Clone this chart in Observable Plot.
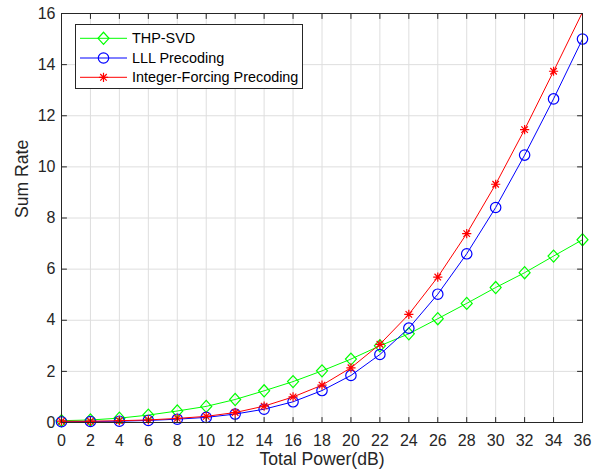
<!DOCTYPE html>
<html>
<head>
<meta charset="utf-8">
<script src="https://cdn.jsdelivr.net/npm/d3@7"></script>
<script src="https://cdn.jsdelivr.net/npm/@observablehq/plot@0.6"></script>
<style>
  body { margin: 0; background: #fff; }
  #chart svg { display: block; }
</style>
</head>
<body>
<div id="chart"></div>
<script>
// ---- data ----
const power = [0, 2, 4, 6, 8, 10, 12, 14, 16, 18, 20, 22, 24, 26, 28, 30, 32, 34, 36];
const thpSvd = [0.07, 0.10, 0.17, 0.29, 0.45, 0.63, 0.90, 1.24, 1.60, 2.02, 2.48, 3.00, 3.47, 4.06, 4.66, 5.28, 5.86, 6.51, 7.15];
const lllPrecoding = [0.03, 0.04, 0.05, 0.08, 0.13, 0.20, 0.33, 0.52, 0.81, 1.25, 1.84, 2.66, 3.69, 5.02, 6.60, 8.41, 10.46, 12.66, 15.00];
const intForcing = [0.05, 0.05, 0.07, 0.10, 0.16, 0.24, 0.39, 0.64, 1.00, 1.46, 2.14, 3.06, 4.23, 5.69, 7.39, 9.32, 11.46, 13.74, 16.05];
const seriesNames = ["THP-SVD", "LLL Precoding", "Integer-Forcing Precoding"];
const xTicks = [0, 2, 4, 6, 8, 10, 12, 14, 16, 18, 20, 22, 24, 26, 28, 30, 32, 34, 36];
const yTicks = [0, 2, 4, 6, 8, 10, 12, 14, 16];
const xLabel = "Total Power(dB)";
const yLabel = "Sum Rate";

// ---- symbols (MATLAB-like) ----
const diamondSym = {
  draw(ctx, size) {
    const r = Math.sqrt(size / Math.PI);
    ctx.moveTo(0, -r * 1.1); ctx.lineTo(r, 0); ctx.lineTo(0, r * 1.1); ctx.lineTo(-r, 0); ctx.closePath();
  }
};
const starSym = {
  draw(ctx, size) {
    const r = Math.sqrt(size / Math.PI);
    const d = r * Math.SQRT1_2;
    ctx.moveTo(-r, 0); ctx.lineTo(r, 0);
    ctx.moveTo(0, -r); ctx.lineTo(0, r);
    ctx.moveTo(-d, -d); ctx.lineTo(d, d);
    ctx.moveTo(-d, d); ctx.lineTo(d, -d);
  }
};
const series = [
  {name: seriesNames[0], values: thpSvd, color: "#00ff00", symbol: diamondSym, r: 5.5},
  {name: seriesNames[1], values: lllPrecoding, color: "#0000ff", symbol: "circle", r: 5.2},
  {name: seriesNames[2], values: intForcing, color: "#ff0000", symbol: starSym, r: 4.6}
];
const rows = s => power.map((p, i) => ({x: p, y: s.values[i]}));

const tickShape = {draw(ctx, l) { ctx.moveTo(0, 0); ctx.lineTo(0, -l); }};
const axisColor = "#262626";
const font = "'Liberation Sans', Arial, Helvetica, sans-serif";

const marks = [
  Plot.gridX(xTicks, {stroke: "#dedede", strokeOpacity: 1}),
  Plot.gridY(yTicks, {stroke: "#dedede", strokeOpacity: 1})
];
for (const s of series) {
  marks.push(Plot.line(rows(s), {x: "x", y: "y", stroke: s.color, strokeWidth: 1, clip: true}));
  marks.push(Plot.dot(rows(s), {x: "x", y: "y", stroke: s.color, fill: "none", strokeWidth: 1.2,
    symbol: s.symbol, r: s.r, filter: d => d.y <= yTicks[yTicks.length - 1]}));
}
const x0 = xTicks[0], x1 = xTicks[xTicks.length - 1], y0 = yTicks[0], y1 = yTicks[yTicks.length - 1];
marks.push(
  Plot.frame({stroke: axisColor, strokeWidth: 1}),
  Plot.vector(xTicks, {x: d => d, y: y0, length: 5, rotate: 0, anchor: "start", shape: tickShape, stroke: axisColor, strokeWidth: 1}),
  Plot.vector(xTicks, {x: d => d, y: y1, length: 5, rotate: 180, anchor: "start", shape: tickShape, stroke: axisColor, strokeWidth: 1}),
  Plot.vector(yTicks, {x: x0, y: d => d, length: 5, rotate: 90, anchor: "start", shape: tickShape, stroke: axisColor, strokeWidth: 1}),
  Plot.vector(yTicks, {x: x1, y: d => d, length: 5, rotate: -90, anchor: "start", shape: tickShape, stroke: axisColor, strokeWidth: 1}),
  Plot.axisX(xTicks, {tickSize: 0, tickPadding: 12, fontSize: 16, label: null, fill: axisColor}),
  Plot.axisY(yTicks, {tickSize: 0, tickPadding: 6, fontSize: 16, label: null, fill: axisColor}),
  Plot.text([xLabel], {frameAnchor: "bottom", dy: 42, fontSize: 17.6, fill: axisColor, text: d => d}),
  Plot.text([yLabel], {frameAnchor: "left", dx: -39, rotate: -90, fontSize: 17.6, fill: axisColor, text: d => d})
);

const chart = Plot.plot({
  width: 602,
  height: 474,
  marginLeft: 61,
  marginRight: 20,
  marginTop: 13,
  marginBottom: 52,
  style: {fontFamily: font, fontSize: "16px", color: axisColor, background: "#fff"},
  x: {domain: [x0, x1], axis: null},
  y: {domain: [y0, y1], axis: null},
  marks
});

// ---- legend (inside the axes, top-left) ----
const svg = d3.select(chart);
const lg = svg.append("g").attr("font-family", font).attr("font-size", 14.4).attr("text-anchor", "start");
lg.append("rect").attr("x", 75.5).attr("y", 24.5).attr("width", 227).attr("height", 64)
  .attr("fill", "#fff").attr("stroke", axisColor).attr("stroke-width", 1);
const rowY = [38.3, 58, 77.3];
series.forEach((s, i) => {
  const g = lg.append("g").attr("transform", `translate(0,${rowY[i]})`);
  g.append("line").attr("x1", 80).attr("x2", 127).attr("y1", 0).attr("y2", 0)
    .attr("stroke", s.color).attr("stroke-width", 1);
  const sym = typeof s.symbol === "string" ? d3.symbolCircle : s.symbol;
  g.append("path").attr("transform", "translate(103.5,0)")
    .attr("d", d3.symbol(sym, Math.PI * s.r * s.r)())
    .attr("fill", "none").attr("stroke", s.color).attr("stroke-width", 1.2);
  g.append("text").attr("x", 132).attr("y", 0).attr("dy", "0.35em")
    .attr("text-anchor", "start").attr("fill", "#000").text(s.name);
});

document.getElementById("chart").appendChild(chart);
</script>
</body>
</html>
